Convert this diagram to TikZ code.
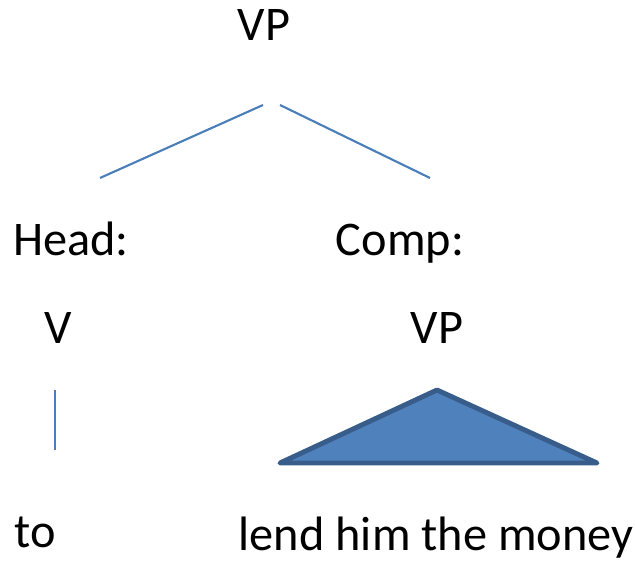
\documentclass[tikz,border=0pt]{standalone}
\usepackage{fontspec}
\setmainfont{Carlito}
\usepackage{xcolor}
\definecolor{branchblue}{HTML}{4A7EBB}
\definecolor{trifill}{HTML}{4F81BD}
\definecolor{triedge}{HTML}{385D8A}

\begin{document}
\begin{tikzpicture}[x=0.02cm,y=-0.02cm,thick,
    word node/.style={anchor=base,inner sep=0pt,font=\fontsize{27.5}{33}\selectfont},
    branch/.style={draw=branchblue,line width=1.2pt}]
    \useasboundingbox (0,0) rectangle (635,573);
                \node[word node] (vp)   at (264,41)  {VP};
                \node[word node] (head) at (71,256)  {Head:};
                \node[word node] (comp) at (400,256) {Comp:};
                \node[word node] (v)    at (58,344)  {V};
                \node[word node] (vp2)  at (437,344) {VP};
                \node[word node] (to)   at (35,547)  {to};
                \node[word node] (lend) at (436,550) {lend him the money};

                % branch ends
                \coordinate (vpl) at (263,105);
                \coordinate (vpr) at (280,105);
                \coordinate (hd)  at (100,178);
                \coordinate (cp)  at (430,178);
                \coordinate (vt)  at (55,390);
                \coordinate (vb)  at (55,450);
                \coordinate (top) at (437,390);
                \coordinate (bl)  at (280,463);
                \coordinate (br)  at (597,463);

                \path[branch]
                    (vpl) edge (hd)
                    (vpr) edge (cp)
                    (vt) edge (vb)
                    ;
                \draw[fill=trifill,draw=triedge,line width=2.8pt,line join=round,line cap=round]
                    (top) -- (br) -- (bl) -- cycle;
            \end{tikzpicture}
\end{document}
